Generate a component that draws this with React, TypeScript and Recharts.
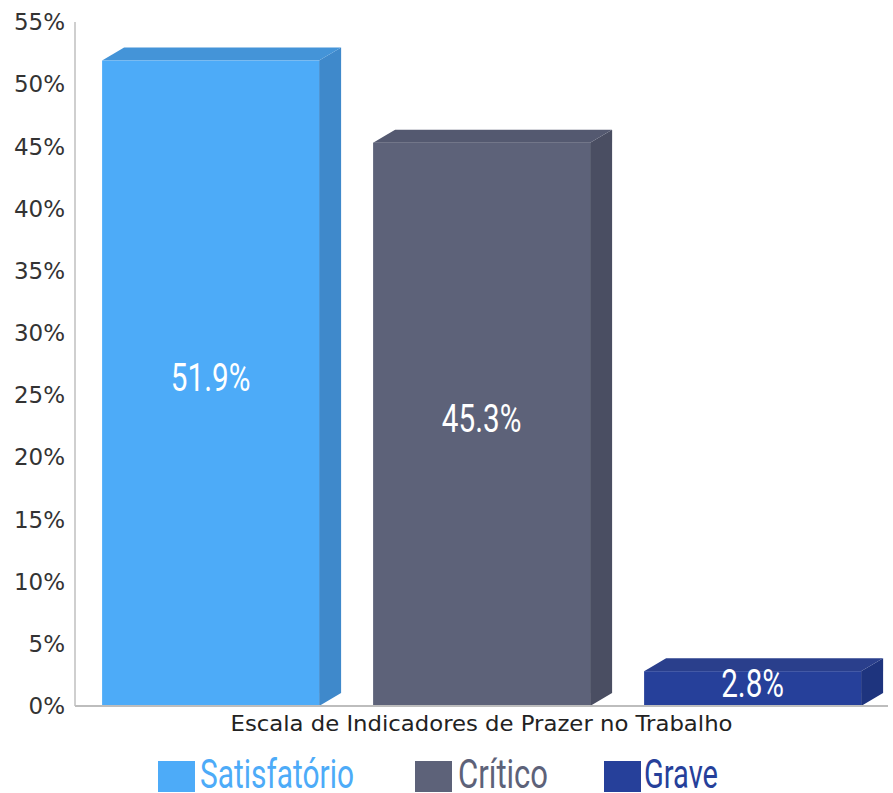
import React from 'react';
import { BarChart, Bar, XAxis, YAxis, Legend, LabelList } from 'recharts';

const categories = ['Satisfatório', 'Crítico', 'Grave'];
const values = [51.9, 45.3, 2.8];
const yTicks = [0, 5, 10, 15, 20, 25, 30, 35, 40, 45, 50, 55];

// front / side / top colours per category
const palette: Record<string, { front: string; side: string; top: string }> = {
  'Satisfatório': { front: '#4DABF8', side: '#3F89CB', top: '#4494D8' },
  'Crítico': { front: '#5D6279', side: '#4A4E62', top: '#545970' },
  'Grave': { front: '#26409A', side: '#1E347E', top: '#2A3F8C' },
};

// legend item placement (x of swatch, x and width of text)
const legendLayout = [
  { sx: 158, tx: 200, tw: 154 },
  { sx: 415, tx: 458, tw: 90 },
  { sx: 604, tx: 644, tw: 74 },
];

const DX = 22;
const DY = 13;

function Bar3D(props: any) {
  const { x, y, width, height, payload } = props;
  const c = palette[payload.name];
  const b = y + height;
  return (
    <g>
      <polygon
        points={`${x + width},${y} ${x + width + DX},${y - DY} ${x + width + DX},${b - DY} ${x + width},${b}`}
        fill={c.side}
      />
      <polygon
        points={`${x},${y} ${x + DX},${y - DY} ${x + width + DX},${y - DY} ${x + width},${y}`}
        fill={c.top}
      />
      <rect x={x} y={y} width={width} height={height} fill={c.front} />
    </g>
  );
}

function ValueLabel(props: any) {
  const { x, y, width, height, value } = props;
  const cx = x + width / 2;
  const base = y + height / 2 + 8;
  return (
    <text
      transform={`translate(${cx},${base}) scale(0.78,1)`}
      textAnchor="middle"
      fill="#fff"
      fontSize={38}
      fontWeight={400}
      fontFamily="Roboto, sans-serif"
    >
      {`${value}%`}
    </text>
  );
}

function AxisTitle(props: any) {
  const { viewBox } = props;
  const cx = viewBox.x + viewBox.width / 2;
  return (
    <text
      x={cx}
      y={731}
      textAnchor="middle"
      fill="#222"
      fontSize={21}
      fontFamily='"DejaVu Sans", sans-serif'
      textLength={502}
      lengthAdjust="spacingAndGlyphs"
    >
      Escala de Indicadores de Prazer no Trabalho
    </text>
  );
}

function renderLegend() {
  return (
    <svg width={893} height={53} style={{ display: 'block' }}>
      {categories.map((name, i) => {
        const l = legendLayout[i];
        return (
          <g key={name}>
            <rect x={l.sx} y={21} width={37} height={31} fill={palette[name].front} />
            <text
              x={l.tx}
              y={48}
              fill={palette[name].front}
              fontSize={41}
              fontWeight={400}
              fontFamily="Roboto, sans-serif"
              textLength={l.tw}
              lengthAdjust="spacingAndGlyphs"
            >
              {name}
            </text>
          </g>
        );
      })}
    </svg>
  );
}

export default function App() {
  const data = categories.map((name, i) => ({ name, value: values[i] }));
  return (
    <div style={{ position: 'absolute', left: 0, top: 0, background: '#fff' }}>
      <BarChart
        width={893}
        height={793}
        data={data}
        margin={{ top: 22, right: 5, left: 0, bottom: 0 }}
        barCategoryGap="10%"
      >
        <YAxis
          domain={[0, 55]}
          ticks={yTicks}
          tickFormatter={(v) => `${v}%`}
          width={75}
          tickLine={false}
          tickSize={0}
          tickMargin={10}
          axisLine={{ stroke: '#cfcfcf', strokeWidth: 2 }}
          tick={{ fill: '#333', fontSize: 23, fontFamily: '"DejaVu Sans", sans-serif' }}
        />
        <XAxis
          dataKey="name"
          tick={false}
          tickLine={false}
          height={34}
          axisLine={{ stroke: '#bdbdbd', strokeWidth: 2 }}
          label={<AxisTitle />}
        />
        <Legend
          verticalAlign="bottom"
          content={renderLegend}
          wrapperStyle={{ left: 0, width: 893, height: 53 }}
          height={53}
        />
        <Bar dataKey="value" shape={Bar3D} isAnimationActive={false}>
          <LabelList dataKey="value" content={<ValueLabel />} />
        </Bar>
      </BarChart>
    </div>
  );
}
